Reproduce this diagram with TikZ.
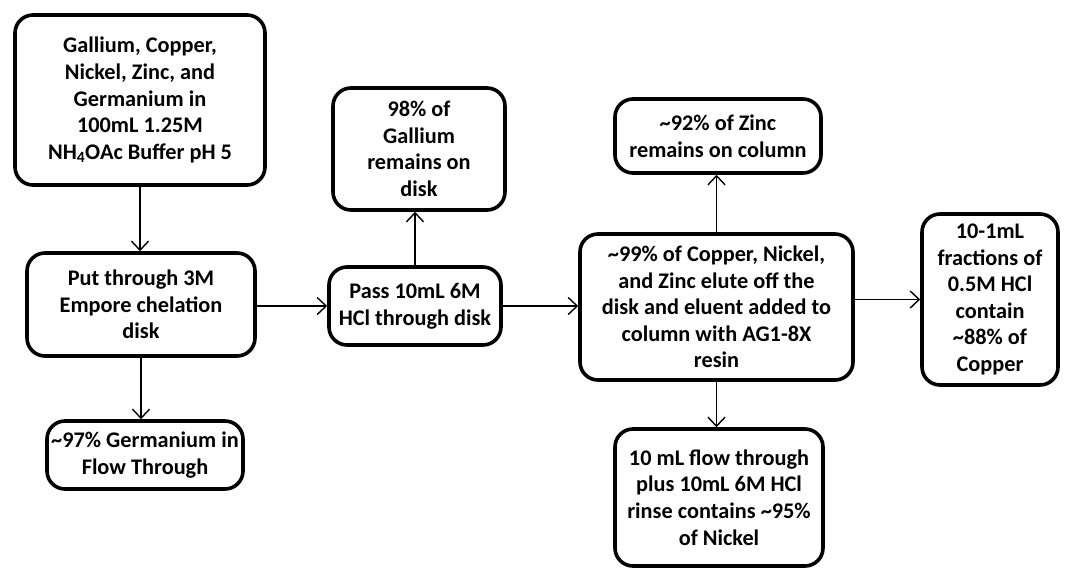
\documentclass[tikz,border=0pt]{standalone}
\usepackage{fontspec}
\setmainfont{Carlito}
\usetikzlibrary{arrows,arrows.meta,positioning}

\begin{document}
\begin{tikzpicture}[->,>={Straight Barb[length=9pt,width=17pt]},x=1pt,y=-1pt,
                    line width=1.4pt]
  \tikzstyle{stage}=[rectangle,rounded corners=18pt,draw=black,line width=3.6pt,
                     fill=white,align=center,inner sep=0pt,
                     font=\bfseries\fontsize{22.3}{26.6}\selectfont]
  \useasboundingbox (0,0) rectangle (1066,570);

  \node[stage,minimum width=250pt,minimum height=170pt] (mix)     at (140,100)
    {Gallium, Copper,\\ Nickel, Zinc, and\\ Germanium in\\ 100mL 1.25M\\ NH\textsubscript{4}OAc Buffer pH 5};
  \node[stage,minimum width=228pt,minimum height=103pt] (empore)  at (141,304.5)
    {Put through 3M\\ Empore chelation\\ disk};
  \node[stage,minimum width=196pt,minimum height=68pt]  (germ)    at (145,455)
    {\textasciitilde97\% Germanium in\\ Flow Through};
  \node[stage,minimum width=172pt,minimum height=78pt]  (hcl)     at (415,306)
    {Pass 10mL 6M\\ HCl through disk};
  \node[stage,minimum width=172pt,minimum height=122pt] (gallium) at (419,149)
    {98\% of\\ Gallium\\ remains on\\ disk};
  \node[stage,minimum width=273pt,minimum height=146pt] (eluent)  at (716.5,307)
    {\textasciitilde99\% of Copper, Nickel,\\ and Zinc elute off the\\ disk and eluent added to\\ column with AG1-8X\\ resin};
  \node[stage,minimum width=206pt,minimum height=74pt]  (zinc)    at (718,136)
    {\textasciitilde92\% of Zinc\\ remains on column};
  \node[stage,minimum width=208pt,minimum height=137pt] (nickel)  at (719,497.5)
    {10 mL flow through\\ plus 10mL 6M HCl\\ rinse contains \textasciitilde95\%\\ of Nickel};
  \node[stage,minimum width=136pt,minimum height=171pt] (copper)  at (990,299.5)
    {10-1mL\\ fractions of\\ 0.5M HCl\\ contain\\ \textasciitilde88\% of\\ Copper};

  \draw (mix.south) -- (mix.south |- empore.north);
  \draw (empore.south) -- (empore.south |- germ.north);
  \draw (empore.east |- hcl.west) -- (hcl.west);
  \draw (hcl.north) -- (hcl.north |- gallium.south);
  \draw (hcl.east) -- (hcl.east -| eluent.west);
  \draw (eluent.north) -- (eluent.north |- zinc.south);
  \draw (eluent.south) -- (eluent.south |- nickel.north);
  \draw (eluent.east |- copper.west) -- (copper.west);
\end{tikzpicture}
\end{document}
